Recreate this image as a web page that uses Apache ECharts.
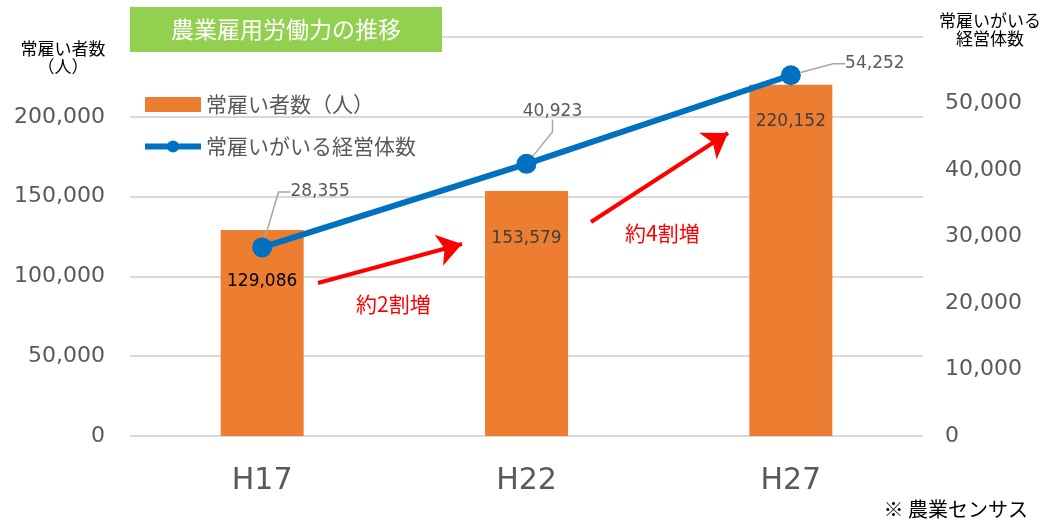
<!DOCTYPE html>
<html><head><meta charset="utf-8">
<script src="https://cdn.jsdelivr.net/npm/echarts@6/dist/echarts.min.js"></script>
<style>html,body{margin:0;padding:0;background:#fff}#c{width:1046px;height:522px}</style>
</head><body><div id="c"></div>
<script>
const categories = ['H17', 'H22', 'H27'];
const employees = [129086, 153579, 220152];
const farms = [28355, 40923, 54252];
const leftTicks = [0, 50000, 100000, 150000, 200000, 250000];
const rightTicks = [0, 10000, 20000, 30000, 40000, 50000, 60000];

const FONT = '"DejaVu Sans", "Noto Sans CJK JP", sans-serif';
const JFONT = '"Noto Sans CJK JP", "DejaVu Sans", sans-serif';
const barLabelShift = [38, 34, 23];
const barLabelColors = ['#000000', '#404040', '#404040'];
const lineLabelShift = [[58, -32], [26, -29], [84, 12]];
const fmt = v => Number(v).toLocaleString('en-US');

const chart = echarts.init(document.getElementById('c'), null, {renderer: 'canvas'});
chart.setOption({
  animation: false,
  backgroundColor: '#fff',
  title: [
    {text: '農業雇用労働力の推移', left: 130, top: 7, backgroundColor: '#92D050',
     padding: [9, 41, 9, 41],
     textStyle: {color: '#fff', fontSize: 23, fontWeight: 'normal', fontFamily: JFONT, lineHeight: 27}},
    {text: '常雇い者数\n（人）', left: 63, top: 40, textAlign: 'center', padding: 0,
     textStyle: {color: '#000', fontSize: 17, fontWeight: 'normal', fontFamily: JFONT, lineHeight: 18}},
    {text: '常雇いがいる\n経営体数', left: 990, top: 12, textAlign: 'center', padding: 0,
     textStyle: {color: '#000', fontSize: 17, fontWeight: 'normal', fontFamily: JFONT, lineHeight: 18}},
    {text: '※ 農業センサス', right: 18, top: 499, padding: 0,
     textStyle: {color: '#000', fontSize: 20, fontWeight: 'normal', fontFamily: JFONT}}
  ],
  legend: {
    orient: 'vertical', left: 137, top: 89, itemWidth: 56, itemHeight: 15, itemGap: 21,
    textStyle: {color: '#595959', fontSize: 21, fontFamily: JFONT},
    data: [
      {name: '常雇い者数（人）', icon: 'rect'},
      {name: '常雇いがいる経営体数', lineStyle: {width: 6, color: '#0070C0'}}
    ]
  },
  grid: {left: 130, right: 123, top: 37, bottom: 86, containLabel: false},
  xAxis: {
    type: 'category', data: categories,
    axisLine: {show: false}, axisTick: {show: false},
    axisLabel: {color: '#595959', fontSize: 30, fontFamily: FONT, margin: 30}
  },
  yAxis: [
    {type: 'value', min: leftTicks[0], max: leftTicks[leftTicks.length - 1], interval: leftTicks[1] - leftTicks[0],
     axisLine: {show: false}, axisTick: {show: false},
     axisLabel: {color: '#595959', fontSize: 22, fontFamily: FONT, margin: 25, formatter: fmt, showMaxLabel: false},
     splitLine: {lineStyle: {color: '#D9D9D9', width: 2}}},
    {type: 'value', min: rightTicks[0], max: rightTicks[rightTicks.length - 1], interval: rightTicks[1] - rightTicks[0],
     axisLine: {show: false}, axisTick: {show: false},
     axisLabel: {color: '#595959', fontSize: 22, fontFamily: FONT, margin: 22, formatter: fmt, showMaxLabel: false},
     splitLine: {show: false}}
  ],
  series: [
    {name: '常雇い者数（人）', type: 'bar', yAxisIndex: 0, barWidth: 83,
     data: employees.map((v, i) => ({value: v, label: {color: barLabelColors[i]}})),
     itemStyle: {color: '#ED7D31'},
     label: {show: true, position: 'insideTop', fontSize: 17, fontFamily: FONT,
       color: '#404040', formatter: p => fmt(p.value)},
     labelLayout: p => ({dy: barLabelShift[p.dataIndex]}),
     markLine: {
       silent: true, symbol: ['none', 'arrow'], symbolSize: 24,
       lineStyle: {color: '#FF0000', width: 4, type: 'solid'},
       label: {show: false},
       data: [
         [{x: 318, y: 283}, {x: 462, y: 244}],
         [{x: 591, y: 222}, {x: 728, y: 133}]
       ]
     }
    },
    {name: '常雇いがいる経営体数', type: 'line', yAxisIndex: 1, data: farms,
     symbol: 'circle', symbolSize: 20, showAllSymbol: true,
     lineStyle: {color: '#0070C0', width: 6}, itemStyle: {color: '#0070C0'},
     label: {show: true, position: 'top', fontSize: 17, fontFamily: FONT, color: '#595959',
       formatter: p => fmt(p.value)},
     labelLayout: p => ({dx: lineLabelShift[p.dataIndex][0], dy: lineLabelShift[p.dataIndex][1]}),
     labelLine: {show: true, length2: 12, lineStyle: {color: '#A6A6A6', width: 1.5}}
    }
  ],
  graphic: [
    {type: 'text', left: 356, top: 294, style: {text: '約2割増', fill: '#FF0000', fontSize: 21, fontFamily: JFONT}},
    {type: 'text', left: 625, top: 223, style: {text: '約4割増', fill: '#FF0000', fontSize: 21, fontFamily: JFONT}}
  ]
});
</script></body></html>
